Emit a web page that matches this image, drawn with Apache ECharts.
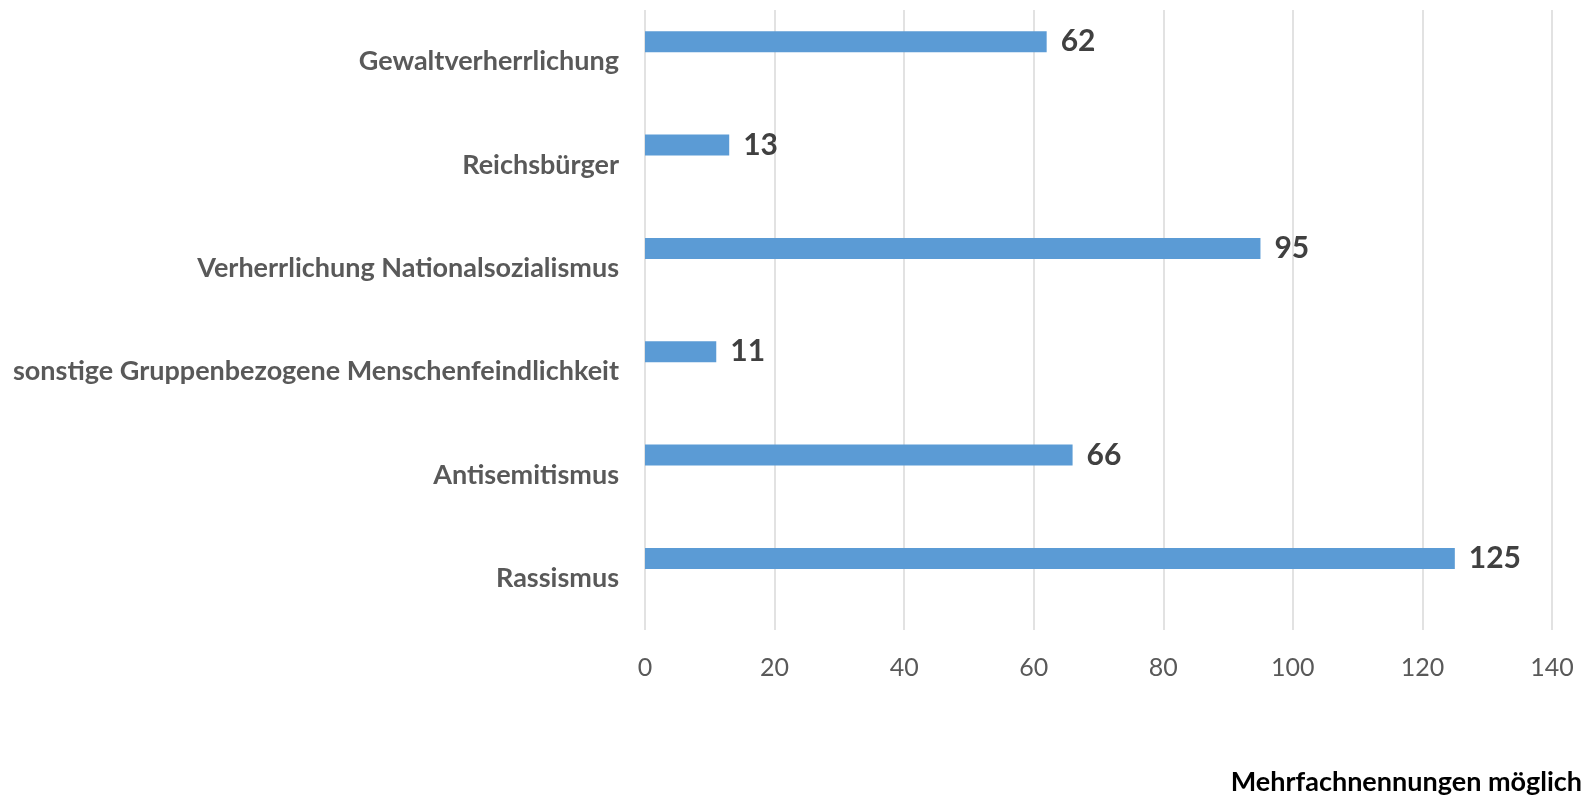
<!DOCTYPE html>
<html>
<head>
<meta charset="utf-8">
<script src="https://cdn.jsdelivr.net/npm/echarts@6/dist/echarts.min.js"></script>
<style>html,body{margin:0;padding:0;background:#fff}#c{width:1588px;height:798px}</style>
</head>
<body>
<div id="c"></div>
<script>
// categories listed bottom to top
var categories = ['Rassismus', 'Antisemitismus', 'sonstige Gruppenbezogene Menschenfeindlichkeit', 'Verherrlichung Nationalsozialismus', 'Reichsbürger', 'Gewaltverherrlichung'];
var values = [125, 66, 11, 95, 13, 62];
var xTicks = [0, 20, 40, 60, 80, 100, 120, 140];
var note = 'Mehrfachnennungen möglich';

var chart = echarts.init(document.getElementById('c'));
chart.setOption({
  animation: false,
  backgroundColor: '#ffffff',
  textStyle: { fontFamily: 'Lato' },
  title: {
    text: note, right: 6, top: 769, padding: 0,
    textStyle: { fontFamily: 'Lato', fontWeight: 'bold', fontSize: 27, color: '#000000' }
  },
  grid: { left: 645, right: 36, top: 10, bottom: 168, containLabel: false },
  xAxis: {
    type: 'value', min: xTicks[0], max: xTicks[xTicks.length - 1], interval: 20,
    axisLine: { show: false }, axisTick: { show: false },
    splitLine: { lineStyle: { color: '#d9d9d9', width: 1.5 } },
    axisLabel: { color: '#595959', fontSize: 25, margin: 25, fontFamily: 'Lato' }
  },
  yAxis: {
    type: 'category', data: categories,
    axisLine: { show: false }, axisTick: { show: false },
    axisLabel: { color: '#595959', fontSize: 27, fontWeight: 'bold', margin: 26, fontFamily: 'Lato' }
  },
  series: [
    {
      type: 'bar', data: values, barWidth: 21, barGap: '90%',
      itemStyle: { color: '#5b9bd5' },
      label: { show: true, position: 'right', distance: 14, color: '#404040', fontSize: 30, fontWeight: 'bold', fontFamily: 'Lato' }
    },
    {
      type: 'bar', data: values.map(function () { return '-'; }), barWidth: 21, silent: true
    }
  ]
});
</script>
</body>
</html>
